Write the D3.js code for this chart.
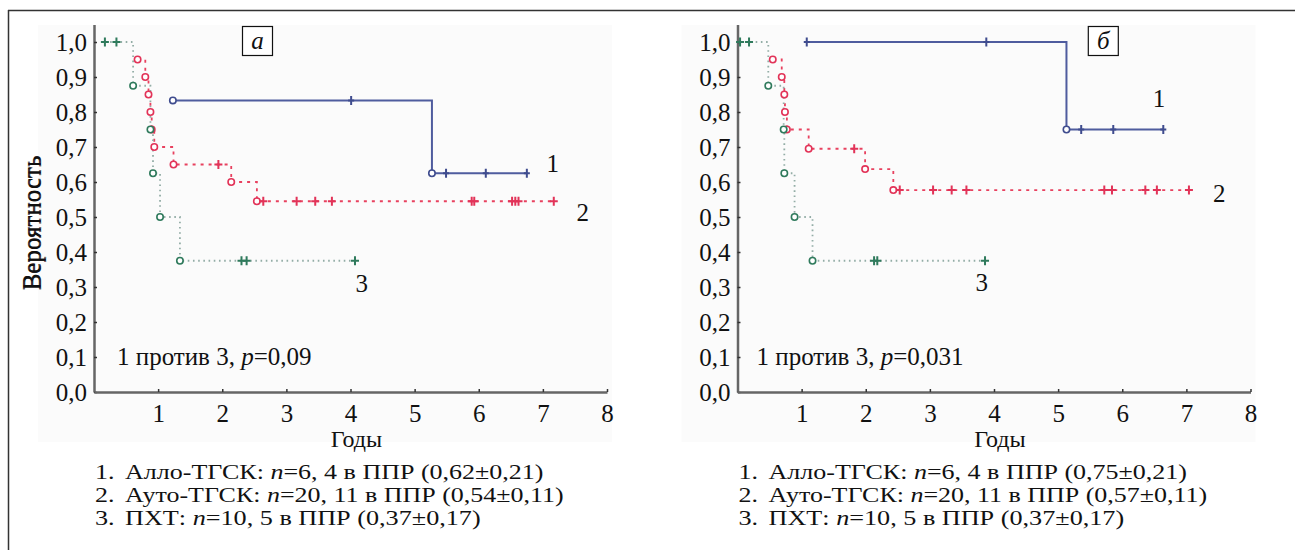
<!DOCTYPE html>
<html>
<head>
<meta charset="utf-8">
<script src="https://cdn.jsdelivr.net/npm/d3@7"></script>
<style>
  body { margin: 0; background: #fff; }
  svg { display: block; font-family: "Liberation Serif", "Times New Roman", serif; }
</style>
</head>
<body>
<div id="chart"></div>
<script>
// ---- data (years, survival probability, 1 = event / 0 = censored) ----
const xTicks = [1, 2, 3, 4, 5, 6, 7, 8];
const yTicks = [0, 0.1, 0.2, 0.3, 0.4, 0.5, 0.6, 0.7, 0.8, 0.9, 1.0];

// panel а
const alloTimesA = [1.23, 4.01, 5.27, 5.49, 6.11, 6.75];
const alloSurvA  = [0.833, 0.833, 0.625, 0.625, 0.625, 0.625];
const alloEventA = [1, 0, 1, 0, 0, 0];

const autoTimesA = [0.68, 0.80, 0.85, 0.88, 0.90, 0.94, 1.24, 1.94, 2.14, 2.54, 2.64, 3.16, 3.45, 3.71, 5.89, 5.93, 6.52, 6.57, 6.62, 7.17];
const autoSurvA  = [0.95, 0.90, 0.85, 0.80, 0.75, 0.70, 0.65, 0.65, 0.60, 0.545, 0.545, 0.545, 0.545, 0.545, 0.545, 0.545, 0.545, 0.545, 0.545, 0.545];
const autoEventA = [1, 1, 1, 1, 1, 1, 1, 0, 1, 1, 0, 0, 0, 0, 0, 0, 0, 0, 0, 0];

const chemoTimesA = [0.17, 0.35, 0.61, 0.88, 0.92, 1.03, 1.34, 2.30, 2.38, 4.07];
const chemoSurvA  = [1, 1, 0.875, 0.75, 0.625, 0.5, 0.375, 0.375, 0.375, 0.375];
const chemoEventA = [0, 0, 1, 1, 1, 1, 1, 0, 0, 0];

// panel б
const alloTimesB = [1.08, 3.88, 5.13, 5.36, 5.86, 6.64];
const alloSurvB  = [1, 1, 0.75, 0.75, 0.75, 0.75];
const alloEventB = [0, 0, 1, 0, 0, 0];

const autoTimesB = [0.55, 0.69, 0.73, 0.74, 0.77, 1.11, 1.82, 1.99, 2.43, 2.53, 3.05, 3.34, 3.57, 5.72, 5.84, 6.36, 6.54, 7.04];
const autoSurvB  = [0.95, 0.90, 0.85, 0.80, 0.75, 0.695, 0.695, 0.637, 0.577, 0.577, 0.577, 0.577, 0.577, 0.577, 0.577, 0.577, 0.577, 0.577];
const autoEventB = [1, 1, 1, 1, 1, 1, 0, 1, 1, 0, 0, 0, 0, 0, 0, 0, 0, 0];

const chemoTimesB = [0.04, 0.18, 0.48, 0.72, 0.73, 0.89, 1.17, 2.13, 2.18, 3.86];
const chemoSurvB  = [1, 1, 0.875, 0.75, 0.625, 0.5, 0.375, 0.375, 0.375, 0.375];
const chemoEventB = [0, 0, 1, 1, 1, 1, 1, 0, 0, 0];

const legendA = [
  ["1.", "Алло-ТГСК: ", "n", "=6, 4 в ППР (0,62±0,21)"],
  ["2.", "Ауто-ТГСК: ", "n", "=20, 11 в ППР (0,54±0,11)"],
  ["3.", "ПХТ: ", "n", "=10, 5 в ППР (0,37±0,17)"]
];
const legendB = [
  ["1.", "Алло-ТГСК: ", "n", "=6, 4 в ППР (0,75±0,21)"],
  ["2.", "Ауто-ТГСК: ", "n", "=20, 11 в ППР (0,57±0,11)"],
  ["3.", "ПХТ: ", "n", "=10, 5 в ППР (0,37±0,17)"]
];

const zip = (t, s, e) => t.map((d, i) => ({ t: d, s: s[i], e: e[i] }));

const panels = [
  {
    ox: 94, letter: "а", letterBox: 242.5,
    pText: ["1 против 3, ", "p", "=0,09"], pX: 23,
    series: [
      { key: 1, pts: zip(alloTimesA, alloSurvA, alloEventA), lab: [552.7, 163] },
      { key: 2, pts: zip(autoTimesA, autoSurvA, autoEventA), lab: [582.7, 212] },
      { key: 3, pts: zip(chemoTimesA, chemoSurvA, chemoEventA), lab: [361.7, 283] }
    ],
    legend: legendA
  },
  {
    ox: 737.5, letter: "б", letterBox: 1088.3,
    pText: ["1 против 3, ", "p", "=0,031"], pX: 19,
    series: [
      { key: 1, pts: zip(alloTimesB, alloSurvB, alloEventB), lab: [1159, 98] },
      { key: 2, pts: zip(autoTimesB, autoSurvB, autoEventB), lab: [1219.3, 193] },
      { key: 3, pts: zip(chemoTimesB, chemoSurvB, chemoEventB), lab: [981.7, 282] }
    ],
    legend: legendB
  }
];

const style = {
  1: { line: "#4f5c9e", mark: "#3f4c8e", dash: null, width: 2 },
  2: { line: "#e8415f", mark: "#e23358", dash: "3,5", width: 1.8 },
  3: { line: "#93ada6", mark: "#2f7a5c", dash: "1.6,3.6", width: 1.8 }
};

const width = 1295, height = 550, fs = 25, legFs = 21;
const plotW = 513;

const svg = d3.select("#chart").append("svg")
  .attr("width", width)
  .attr("height", height);

// frame (top + left)
svg.append("line").attr("x1", 8).attr("x2", width).attr("y1", 10.5).attr("y2", 10.5)
  .attr("stroke", "#333").attr("stroke-width", 1.5);
svg.append("line").attr("x1", 8.5).attr("x2", 8.5).attr("y1", 10).attr("y2", height)
  .attr("stroke", "#333").attr("stroke-width", 1.5);

const x = d3.scaleLinear().domain([0, 8]).range([0, plotW]);
const y = d3.scaleLinear().domain([0, 1.05]).range([392, 24.5]);
const fmt = d => d3.format(".1f")(d).replace(".", ",");

panels.forEach(p => {
  // faint plot background
  svg.append("rect")
    .attr("x", p.ox - 56).attr("y", 25)
    .attr("width", 574).attr("height", 417)
    .attr("fill", "#fbfbfb");

  const g = svg.append("g").attr("transform", `translate(${p.ox},0)`);

  const yAxis = g.append("g")
    .call(d3.axisLeft(y).tickValues(yTicks).tickFormat(fmt).tickSize(-3).tickSizeOuter(0).tickPadding(7));
  const xAxis = g.append("g")
    .attr("transform", `translate(0,392)`)
    .call(d3.axisBottom(x).tickValues(xTicks).tickSize(-3).tickSizeOuter(0).tickPadding(12));

  [xAxis, yAxis].forEach(a => {
    a.attr("font-family", null).attr("font-size", fs);
    a.select(".domain").attr("stroke", "#666").attr("stroke-width", 2.5);
    a.selectAll(".tick line").attr("stroke", "#333").attr("stroke-width", 1.5);
    a.selectAll(".tick text").attr("fill", "#111");
  });

  // axis titles
  g.append("text")
    .attr("transform", `translate(${-p.ox + 41 + (p.ox > 100 ? -1 : 0)},223) rotate(-90)`)
    .attr("text-anchor", "middle")
    .attr("font-size", fs).attr("fill", "#111")
    .text("Вероятность");
  g.append("text")
    .attr("x", x(4) + 6).attr("y", 447)
    .attr("text-anchor", "middle")
    .attr("font-size", 24).attr("fill", "#111")
    .text("Годы");

  // p-value note
  const pt = g.append("text")
    .attr("x", p.pX).attr("y", 365)
    .attr("font-size", fs).attr("fill", "#111");
  pt.append("tspan").text(p.pText[0]);
  pt.append("tspan").attr("font-style", "italic").text(p.pText[1]);
  pt.append("tspan").text(p.pText[2]);

  // curves
  const line = d3.line().x(d => x(d.t)).y(d => y(d.s)).curve(d3.curveStepAfter);
  p.series.forEach(s => {
    const st = style[s.key];
    g.append("path")
      .datum(s.pts)
      .attr("d", line)
      .attr("fill", "none")
      .attr("stroke", st.line)
      .attr("stroke-width", st.width)
      .attr("stroke-dasharray", st.dash);
  });
  p.series.forEach(s => {
    const st = style[s.key];
    g.selectAll(null)
      .data(s.pts.filter(d => d.e === 1))
      .join("circle")
      .attr("cx", d => x(d.t)).attr("cy", d => y(d.s))
      .attr("r", 3.2)
      .attr("fill", "#fff")
      .attr("stroke", st.mark)
      .attr("stroke-width", 1.6);
    g.selectAll(null)
      .data(s.pts.filter(d => d.e === 0))
      .join("path")
      .attr("transform", d => `translate(${x(d.t)},${y(d.s)})`)
      .attr("d", s.key === 1 ? "M-3,0H3M0,-4.5V4.5" : "M-4,0H4M0,-4.5V4.5")
      .attr("fill", "none")
      .attr("stroke", st.mark)
      .attr("stroke-width", 2);
  });

  // curve numbers
  p.series.forEach(s => {
    svg.append("text")
      .attr("x", s.lab[0]).attr("y", s.lab[1])
      .attr("dy", "0.35em")
      .attr("text-anchor", "middle")
      .attr("font-size", fs).attr("fill", "#111")
      .text(s.key);
  });

  // panel letter
  svg.append("rect")
    .attr("x", p.letterBox).attr("y", 26.5)
    .attr("width", 30).attr("height", 29)
    .attr("fill", "#fff").attr("stroke", "#111").attr("stroke-width", 1.2);
  svg.append("text")
    .attr("x", p.letterBox + 15).attr("y", 41)
    .attr("dy", "0.33em")
    .attr("text-anchor", "middle")
    .attr("font-size", fs).attr("font-style", "italic").attr("fill", "#111")
    .text(p.letter);

  // legend rows: smaller font, stretched to the printed width
  p.legend.forEach((row, i) => {
    const ly = 479 + i * 23;
    const t = svg.append("text")
      .attr("x", p.ox + 1).attr("y", ly)
      .attr("font-size", legFs).attr("fill", "#111");
    t.append("tspan").text(row[0]);
    t.append("tspan").attr("x", p.ox + 31).text(row[1]);
    t.append("tspan").attr("font-style", "italic").text(row[2]);
    t.append("tspan").text(row[3]);
    const w = t.node().getBBox().width;
    t.attr("textLength", w * fs / legFs).attr("lengthAdjust", "spacingAndGlyphs");
  });
});
</script>
</body>
</html>
